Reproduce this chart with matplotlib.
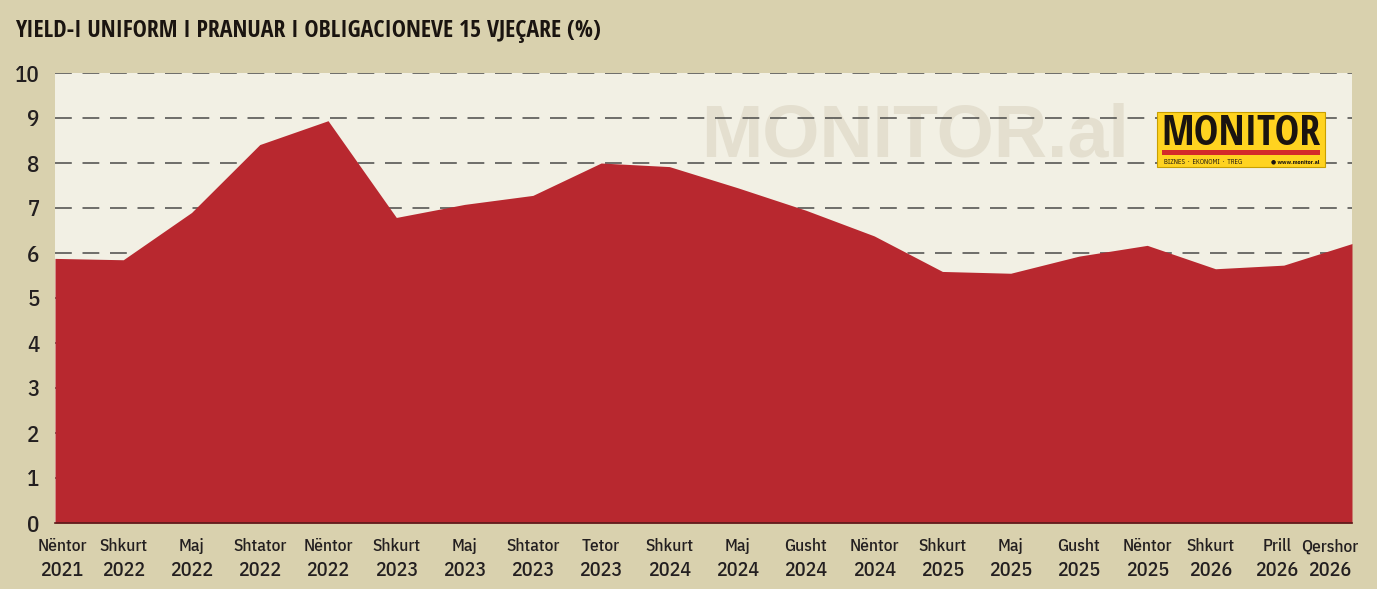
import matplotlib
matplotlib.use("Agg")
import matplotlib.pyplot as plt
import matplotlib.transforms as mtransforms
from matplotlib.patches import Rectangle

months = ["Nëntor", "Shkurt", "Maj", "Shtator", "Nëntor", "Shkurt", "Maj",
          "Shtator", "Tetor", "Shkurt", "Maj", "Gusht", "Nëntor", "Shkurt",
          "Maj", "Gusht", "Nëntor", "Shkurt", "Prill", "Qershor"]
years = ["2021", "2022", "2022", "2022", "2022", "2023", "2023", "2023", "2023",
         "2024", "2024", "2024", "2024", "2025", "2025", "2025", "2025", "2026",
         "2026", "2026"]
yields = [5.88, 5.85, 6.9, 8.41, 8.94, 6.79, 7.08, 7.28, 8.0, 7.92, 7.45,
          6.95, 6.38, 5.59, 5.55, 5.93, 6.17, 5.65, 5.73, 6.21]
yticks = list(range(0, 11))

BG = "#d9d1ae"
PLOT_BG = "#f2f0e4"
RED = "#b8282f"
DARK = "#231f20"
COND = ["IBM Plex Sans Condensed", "Open Sans Condensed", "DejaVu Sans"]
HEAVY = ["Open Sans Condensed", "IBM Plex Sans Condensed", "DejaVu Sans"]

fig = plt.figure(figsize=(13.77, 5.89), dpi=100, facecolor=BG)
ax = fig.add_axes([55/1377, 66/589, 1297/1377, 450/589])
ax.set_facecolor(PLOT_BG)

x = list(range(len(yields)))
ax.fill_between(x, 0, yields, color=RED, lw=0, zorder=3)
ax.set_xlim(0, len(yields) - 1)
ax.set_ylim(0, 10)

ax.set_yticks(yticks)
ax.set_yticklabels([str(v) for v in yticks], family=COND, fontsize=16.5,
                   color=DARK, weight="medium")
for v in yticks[1:]:
    ax.axhline(v, color="#4a4a48", lw=1.1, dashes=(11, 7), zorder=2)

ax.set_xticks(x)
ax.set_xticklabels(months, family=COND, fontsize=12.5, color=DARK,
                   weight="medium", va="baseline")
ax.tick_params(axis="both", length=0)
ax.tick_params(axis="x", pad=20.5)
ax.tick_params(axis="y", pad=11)

for s in ["top", "left", "right"]:
    ax.spines[s].set_visible(False)
ax.spines["bottom"].set_color("#5a1a1a")
ax.spines["bottom"].set_linewidth(1.2)
ax.spines["bottom"].set_zorder(4)

trans = mtransforms.blended_transform_factory(ax.transData, ax.transAxes)
year_texts = []
for i, yr in enumerate(years):
    t = ax.text(i, -0.118, yr, transform=trans, ha="center", va="baseline",
                family=COND, fontsize=14.5, color=DARK, weight="medium")
    year_texts.append(t)

# nudge edge labels inward like the original
labels = ax.get_xticklabels()
nudges = {0: 7, 17: -5, 18: -7, len(months) - 1: -22}
for i, px in nudges.items():
    off = mtransforms.ScaledTranslation(px/100, 0, fig.dpi_scale_trans)
    labels[i].set_transform(labels[i].get_transform() + off)
    year_texts[i].set_transform(year_texts[i].get_transform() + off)

# watermark
ax.text(0.663, 0.857, "MONITOR.al", transform=ax.transAxes, ha="center",
        va="center", family=["Liberation Sans", "DejaVu Sans"], weight="bold",
        fontsize=53, color="#e4dfcf", zorder=1)

# logo box
lx, ly, lw, lh = 0.8497, 0.7911, 0.1295, 0.1222
ax.add_patch(Rectangle((lx, ly), lw, lh, transform=ax.transAxes,
                       facecolor="#ffd320", edgecolor="#c9a000", lw=0.8, zorder=5))
ax.text(lx + lw/2, ly + lh*0.60, "MONITOR", transform=ax.transAxes, ha="center",
        va="center", family=HEAVY, weight="bold", fontsize=30, color="#1a1410",
        zorder=6)
ax.add_patch(Rectangle((lx + 0.004, ly + lh*0.22), lw - 0.008, lh*0.09,
                       transform=ax.transAxes, facecolor="#d42a2a", lw=0, zorder=6))
ax.text(lx + 0.005, ly + lh*0.10, "BIZNES  ·  EKONOMI  ·  TREG", transform=ax.transAxes,
        ha="left", va="center", family=COND, fontsize=4.8, color="#1a1410", zorder=6)
ax.text(lx + lw - 0.004, ly + lh*0.10, "● www.monitor.al", transform=ax.transAxes,
        ha="right", va="center", family=COND, weight="bold", fontsize=4.3,
        color="#1a1410", zorder=6)

fig.text(15/1377, 1 - 31/589, "YIELD-I UNIFORM I PRANUAR I OBLIGACIONEVE 15 VJEÇARE (%)",
         ha="left", va="center", family=HEAVY, weight="bold", fontsize=17.2,
         color="#1a1410")

fig.savefig("out.png", dpi=100, facecolor=BG)
